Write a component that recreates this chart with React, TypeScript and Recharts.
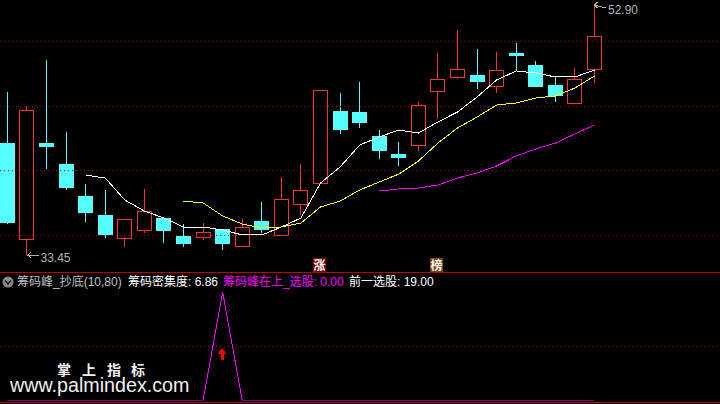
import React from "react";
import { ComposedChart, Bar, Line, XAxis, YAxis, ReferenceLine, ReferenceDot } from "recharts";

const highs = [46.13,45.04,48.62,43.02,38.97,38.51,36.25,38.59,36.33,35.86,35.94,35.47,36.25,37.57,39.52,40.53,46.29,46.05,46.91,43.18,42.24,45.35,49.17,50.96,49.48,49.24,49.95,48.54,47.30,48.00,52.90];
const bodyTops = [42.16,44.73,42.16,40.53,38.04,36.56,36.25,36.87,36.33,34.93,35.24,35.47,35.63,36.10,37.81,38.51,46.29,44.65,44.58,42.71,41.31,45.12,47.14,47.92,47.46,47.84,49.17,48.23,46.68,47.14,50.49];
const bodyBottoms = [36.02,34.70,41.93,38.74,36.80,35.08,34.77,35.40,35.40,34.38,34.85,34.38,34.15,35.47,35.01,37.42,39.05,43.25,43.80,41.62,41.08,42.01,46.21,47.30,46.99,46.60,49.01,46.60,45.90,45.28,47.92];
const lows = [35.86,33.45,40.14,38.51,36.02,34.77,34.07,35.16,34.38,34.07,34.62,33.84,34.15,35.16,35.01,36.56,39.05,42.87,43.33,40.92,40.38,41.54,44.03,47.14,46.37,46.05,47.77,46.60,45.35,45.28,46.83];
const rising = [false,true,false,false,false,false,true,true,false,false,true,false,true,false,true,true,true,false,false,false,false,true,true,true,false,true,false,false,false,true,true];

const ma1 = [null,null,null,null,39.67,39.44,37.73,36.87,36.33,35.63,35.63,35.40,35.01,35.01,35.63,36.33,39.05,40.30,42.01,42.63,43.18,42.94,43.80,44.58,45.74,47.07,47.77,47.61,47.30,47.30,47.84];
const ma2 = [null,null,null,null,null,null,null,null,null,37.65,37.50,36.49,35.86,35.55,35.63,35.94,37.19,37.65,38.51,39.13,39.75,40.76,42.16,43.33,44.19,45.12,45.28,45.67,45.82,46.44,47.38];
const ma3 = [null,null,null,null,null,null,null,null,null,null,null,null,null,null,null,null,null,null,null,38.43,38.59,38.66,38.90,39.44,39.83,40.38,41.15,41.70,42.16,42.87,43.57];
const indicator = [0,0,0,0,0,0,0,0,0,0,0,100,0,0,0,0,0,0,0,0,0,0,0,0,0,0,0,0,0,0,0];

const priceGrid = [50.06, 45.0, 40.02, 34.97];
const indicatorGrid = [49.8];
const lowLabel = "33.45";
const highLabel = "52.90";
const eventBadges = [
  { i: 16, price: 32.71, text: "涨", fill: "#7f0000" },
  { i: 22, price: 32.71, text: "榜", fill: "#804000" },
];
const headerItems = [
  { text: "筹码峰_抄底(10,80)", left: 17, color: "#c0c0c0" },
  { text: "筹码密集度: 6.86", left: 128, color: "#ffffff" },
  { text: "筹码峰在上_选股: 0.00", left: 223, color: "#ff00ff" },
  { text: "前一选股: 19.00", left: 349, color: "#ffffff" },
];
const watermarkChars = [
  { text: "掌", left: 57 },
  { text: "上", left: 82 },
  { text: "指", left: 107 },
  { text: "标", left: 131 },
];
const watermarkUrl = "www.palmindex.com";

const CYAN = "#55ffff";
const RED = "#ff3232";
const FONT = '"Liberation Sans","Noto Sans CJK SC",sans-serif';

const priceRows = highs.map((high, i) => ({
  i,
  range: [lows[i], high],
  high,
  low: lows[i],
  top: bodyTops[i],
  bottom: bodyBottoms[i],
  up: rising[i],
  ma1: ma1[i],
  ma2: ma2[i],
  ma3: ma3[i],
}));
const indicatorRows = indicator.map((value, i) => ({ i, value }));

const xDomain: [number, number] = [-0.378, 36.413];

function Candle(props: any) {
  const { x, y, width, height, payload } = props;
  const color = payload.up ? RED : CYAN;
  const px = Math.floor(x + width / 2);
  const perUnit = height / (payload.high - payload.low);
  const yHigh = Math.round(y);
  const yLow = Math.round(y + height);
  const yTop = Math.round(y + (payload.high - payload.top) * perUnit);
  const yBottom = Math.round(y + (payload.high - payload.bottom) * perUnit);
  return (
    <g>
      <rect x={px} y={yHigh} width={1} height={Math.max(yLow - yHigh, 1)} fill={color} />
      {payload.up ? (
        <rect x={px - 6.5} y={yTop + 0.5} width={14} height={yBottom - yTop} fill="#000" stroke={color} strokeWidth={1} />
      ) : (
        <rect x={px - 7} y={yTop} width={15} height={yBottom - yTop + 1} fill={color} />
      )}
    </g>
  );
}

function LowMark(props: any) {
  const { cx, cy } = props;
  return (
    <g>
      <path d={`M${cx + 12} ${cy}H${cx}M${cx + 4} ${cy - 3}L${cx + 1} ${cy}L${cx + 4} ${cy + 3}`} stroke="#b4b4b4" fill="none" />
      <text x={cx + 13.5} y={cy + 7} fontSize={12} fill="#b4b4b4" fontFamily={FONT}>{lowLabel}</text>
    </g>
  );
}

function HighMark(props: any) {
  const { cx, cy } = props;
  return (
    <g>
      <path d={`M${cx} ${cy}L${cx + 11} ${cy + 3}M${cx + 3} ${cy - 3}L${cx} ${cy}L${cx + 3} ${cy + 3}`} stroke="#b4b4b4" fill="none" />
      <text x={cx + 13.5} y={cy + 9} fontSize={12} fill="#b4b4b4" fontFamily={FONT}>{highLabel}</text>
    </g>
  );
}

function badgeShape(text: string, fill: string) {
  return (props: any) => {
    const { cx, cy } = props;
    const left = Math.floor(cx) - 7;
    const top = Math.round(cy) - 7;
    return (
      <g>
        <rect x={left} y={top} width={13} height={14} fill={fill} />
        <text x={left + 6.5} y={top + 11.5} textAnchor="middle" fontSize={12} fontWeight={700} fill="#ffffff" fontFamily={FONT}>{text}</text>
      </g>
    );
  };
}

function UpArrow(props: any) {
  const { cx, cy } = props;
  const c = Math.floor(cx);
  return (
    <path
      d={`M${c} ${cy}L${c + 5} ${cy + 6}H${c + 2}V${cy + 12}H${c - 1}V${cy + 6}H${c - 5}Z`}
      fill="#ff0000"
    />
  );
}

export default function App() {
  return (
    <div style={{ position: "absolute", left: 0, top: 0, width: 720, height: 404, background: "#000", overflow: "hidden" }}>
      <div style={{ position: "absolute", left: 0, top: 0, shapeRendering: "crispEdges" } as any}>
        <ComposedChart width={720} height={272} data={priceRows} margin={{ top: 0, right: 0, bottom: 0, left: 0 }}>
          <XAxis dataKey="i" type="number" domain={xDomain} allowDataOverflow hide />
          <YAxis type="number" domain={[32.13, 53.29]} allowDataOverflow hide />
          {priceGrid.map((v) => (
            <ReferenceLine key={v} y={v} stroke="#b00000" strokeDasharray="1 3" />
          ))}
          <Bar dataKey="range" barSize={15.5} shape={Candle} isAnimationActive={false} />
          <Line dataKey="ma1" stroke="#ffffff" strokeWidth={1} dot={false} type="linear" isAnimationActive={false} />
          <Line dataKey="ma2" stroke="#ffff00" strokeWidth={1} dot={false} type="linear" isAnimationActive={false} />
          <Line dataKey="ma3" stroke="#ff00ff" strokeWidth={1} dot={false} type="linear" isAnimationActive={false} />
          <ReferenceDot x={1} y={33.45} r={0} shape={LowMark} />
          <ReferenceDot x={30} y={52.9} r={0} shape={HighMark} />
          {eventBadges.map((b) => (
            <ReferenceDot key={b.i} x={b.i} y={b.price} r={0} shape={badgeShape(b.text, b.fill)} />
          ))}
        </ComposedChart>
      </div>
      <div style={{ position: "absolute", left: 0, top: 272, width: 720, height: 1, background: "#c00000" }} />
      <div style={{ position: "absolute", left: 0, top: 272, shapeRendering: "crispEdges" } as any}>
        <ComposedChart width={720} height={132} data={indicatorRows} margin={{ top: 20, right: 0, bottom: 3.5, left: 0 }}>
          <XAxis dataKey="i" type="number" domain={xDomain} allowDataOverflow hide />
          <YAxis type="number" domain={[0, 100]} allowDataOverflow hide />
          {indicatorGrid.map((v) => (
            <ReferenceLine key={v} y={v} stroke="#b00000" strokeDasharray="1 3" />
          ))}
          <Line dataKey="value" stroke="#ff00ff" strokeWidth={1} dot={false} type="linear" isAnimationActive={false} />
          <ReferenceDot x={11} y={48} r={0} shape={UpArrow} />
        </ComposedChart>
      </div>
      <div style={{ position: "absolute", left: 0, top: 402, width: 720, height: 1, background: "#c00000" }} />
      <svg width={12} height={12} style={{ position: "absolute", left: 2, top: 276 }}>
        <circle cx={6} cy={6} r={5.5} fill="#8a8a8a" />
        <path d="M3 4.5L6 8L9 4.5" stroke="#222" strokeWidth={1.5} fill="none" />
      </svg>
      {headerItems.map((h) => (
        <span key={h.text} style={{ position: "absolute", left: h.left, top: 275, fontFamily: FONT, fontSize: 12, lineHeight: "14px", color: h.color, whiteSpace: "pre" }}>{h.text}</span>
      ))}
      {watermarkChars.map((c) => (
        <span key={c.text} style={{ position: "absolute", left: c.left, top: 363, fontFamily: FONT, fontSize: 14, lineHeight: "14px", fontWeight: 700, color: "#f0f0f0" }}>{c.text}</span>
      ))}
      <span style={{ position: "absolute", left: 10, top: 377, fontFamily: FONT, fontSize: 19.7, lineHeight: "16px", color: "#f0f0f0", whiteSpace: "pre" }}>{watermarkUrl}</span>
    </div>
  );
}
